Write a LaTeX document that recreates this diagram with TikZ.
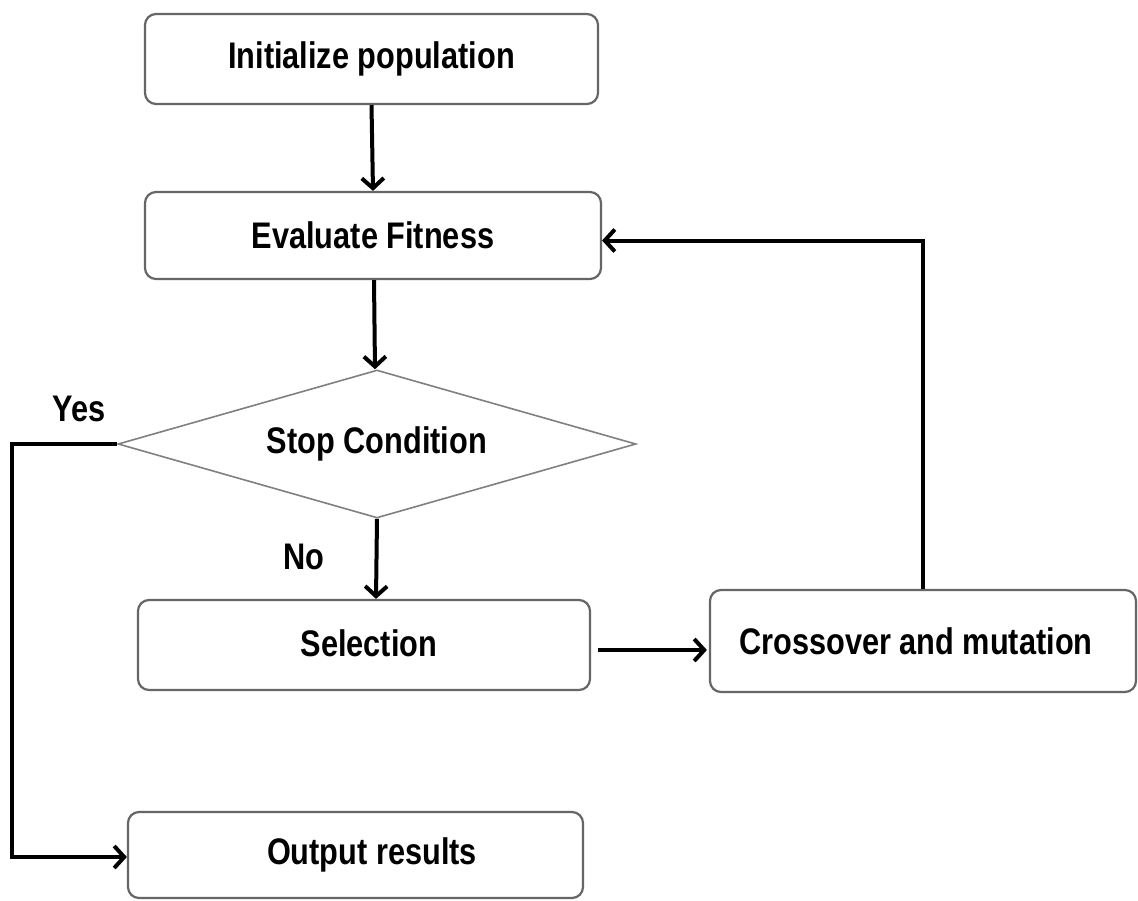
\documentclass[tikz,border=0pt]{standalone}
\usepackage{fontspec}
\setmainfont{Liberation Sans}
\newfontfamily\labfont[FakeStretch=0.83]{Liberation Sans}
\usetikzlibrary{arrows.meta,shapes.geometric,calc}
\begin{document}
\begin{tikzpicture}[x=1pt,y=-1pt,
  lab/.style={font=\labfont\bfseries\fontsize{37}{40}\selectfont, text=black},
  box/.style={lab, draw=black!60, line width=2.2pt, rounded corners=11pt, inner sep=0pt, fill=white},
  dia/.style={lab, draw=black!50, line width=1.6pt, shape=diamond, aspect=3.5, inner sep=0pt,
    minimum width=518pt, minimum height=148pt},
  arr/.style={line width=4pt, draw=black, -{Straight Barb[length=10pt,width=22pt]}},
  ln/.style={line width=3.5pt, draw=black}]
\useasboundingbox (0,0) rectangle (1138,900);
\fill[white] (0,0) rectangle (1138,900);

\node[box, minimum width=453pt, minimum height=90pt] (init) at (371.5,59) {\raisebox{6pt}{Initialize population}};
\node[box, minimum width=456pt, minimum height=87pt] (eval) at (373,235.5) {Evaluate Fitness};
\node[dia] (stop) at (377,444) {\raisebox{7pt}{Stop Condition}};
\node[box, minimum width=452pt, minimum height=90pt] (sel) at (364,645) {\raisebox{4pt}{\hspace*{10pt}Selection}};
\node[box, minimum width=426pt, minimum height=102pt] (cross) at (923,641) {\hspace*{-14pt}Crossover and mutation};
\node[box, minimum width=455pt, minimum height=86pt] (out) at (355.5,855) {\raisebox{-2pt}{\hspace*{33pt}Output results}};

\node[lab] (yes) at (79,409) {Yes};
\node[lab] (no) at (304,557) {No};

\coordinate (yc1) at (12,444);
\coordinate (yc2) at (12,857);

\draw[arr] (init.south) -- (eval.north);
\draw[arr] ([xshift=1pt]eval.south) -- ([xshift=-2pt]stop.north);
\draw[arr] (stop.south) -- ([xshift=12pt]sel.north);
\draw[arr] ($(sel.east)+(7,5)$) -- ($(cross.west)+(-2,9)$);
\draw[arr] (cross.north) |- ($(eval.east)+(0,5)$);
\draw[arr] (stop.west) -- (yc1) -- (yc2) -- (out.west |- yc2);
\end{tikzpicture}
\end{document}
